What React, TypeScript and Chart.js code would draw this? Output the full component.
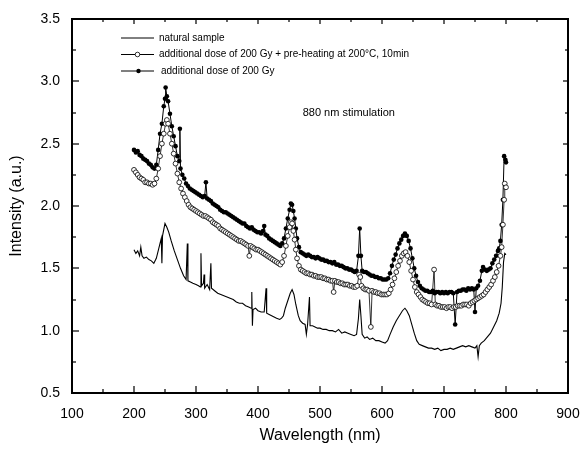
import React, { useEffect, useRef } from "react";
import { Chart, registerables } from "chart.js";

Chart.register(...registerables);

// ---- data ----
const naturalWl = [
  200, 203, 206, 209, 211, 213, 216, 220, 224, 228,
  232, 236, 240, 244, 245, 246, 250, 253, 256, 260,
  265, 270, 275, 280, 284, 286, 287, 291, 295, 300,
  304, 307, 308, 309, 312, 313, 314, 318, 322, 324,
  325, 330, 335, 340, 345, 350, 355, 360, 365, 370,
  375, 380, 385, 389, 390, 391, 392, 396, 400, 405,
  410, 413, 414, 418, 422, 426, 430, 435, 438, 441,
  444, 448, 452, 455, 458, 461, 465, 468, 472, 476,
  478, 480, 483, 484, 488, 492, 496, 500, 505, 510,
  515, 520, 525, 530, 535, 540, 545, 550, 555, 559,
  562, 564, 566, 568, 572, 576, 580, 585, 590, 595,
  600, 605, 609, 613, 618, 623, 628, 633, 637, 640,
  644, 648, 652, 656, 660, 665, 670, 675, 680, 685,
  690, 695, 700, 705, 710, 715, 720, 725, 730, 735,
  740, 745, 750, 753, 755, 757, 760, 765, 770, 775,
  780, 785, 789, 792, 794, 796, 798, 800,
];
const naturalVal = [
  1.65, 1.62, 1.64, 1.60, 1.67, 1.60, 1.58, 1.59, 1.57, 1.56,
  1.54, 1.58, 1.66, 1.74, 1.54, 1.76, 1.86, 1.83, 1.79, 1.72,
  1.64, 1.57, 1.50, 1.44, 1.41, 1.70, 1.40, 1.39, 1.38, 1.37,
  1.36, 1.35, 1.62, 1.36, 1.38, 1.45, 1.34, 1.37, 1.33, 1.54,
  1.34, 1.32, 1.30, 1.29, 1.28, 1.27, 1.26, 1.25, 1.23, 1.22,
  1.22, 1.20, 1.19, 1.18, 1.31, 1.04, 1.17, 1.18, 1.16, 1.15,
  1.15, 1.34, 1.14, 1.13, 1.12, 1.11, 1.10, 1.09, 1.10, 1.12,
  1.18, 1.24, 1.30, 1.33, 1.29, 1.21, 1.12, 1.08, 1.06, 1.05,
  0.97, 1.05, 1.27, 1.04, 1.04, 1.03, 1.02, 1.02, 1.01, 1.01,
  1.00, 1.00, 0.99, 1.01, 0.98, 0.99, 0.98, 0.97, 0.96, 0.97,
  1.10, 1.25, 1.12, 0.97, 0.94, 0.95, 0.93, 0.94, 0.92, 0.92,
  0.91, 0.90, 0.92, 0.97, 1.03, 1.08, 1.12, 1.16, 1.18, 1.16,
  1.12, 1.05, 0.98, 0.92, 0.89, 0.88, 0.87, 0.86, 0.86, 0.85,
  0.86, 0.84, 0.85, 0.85, 0.86, 0.85, 0.86, 0.87, 0.88, 0.87,
  0.88, 0.87, 0.86, 0.88, 0.79, 0.88, 0.90, 0.92, 0.95, 0.98,
  1.03, 1.08, 1.14, 1.22, 1.35, 1.55, 1.62, 1.61,
];

const preheatWl = [
  200, 203, 206, 209, 212, 215, 218, 221, 224, 227,
  230, 233, 236, 239, 242, 245, 248, 251, 253, 255,
  258, 261, 264, 267, 270, 273, 276, 279, 282, 285,
  288, 291, 294, 297, 300, 303, 306, 309, 312, 315,
  318, 321, 324, 327, 330, 333, 336, 339, 342, 345,
  348, 351, 354, 357, 360, 363, 366, 369, 372, 375,
  378, 381, 384, 386, 388, 391, 394, 397, 400, 403,
  406, 409, 412, 415, 418, 421, 424, 427, 430, 433,
  436, 439, 442, 445, 448, 451, 453, 455, 457, 459,
  461, 463, 466, 469, 472, 475, 478, 481, 484, 487,
  490, 493, 496, 499, 502, 505, 508, 511, 514, 517,
  520, 522, 524, 527, 530, 533, 536, 539, 542, 545,
  548, 551, 554, 557, 560, 563, 565, 567, 570, 573,
  576, 579, 582, 584, 587, 590, 593, 596, 599, 602,
  605, 608, 611, 614, 617, 620, 623, 626, 629, 632,
  635, 638, 641, 644, 647, 650, 653, 656, 659, 662,
  665, 668, 671, 674, 677, 680, 684, 686, 689, 692,
  695, 698, 701, 704, 707, 710, 713, 716, 719, 722,
  725, 728, 731, 734, 737, 740, 743, 746, 749, 752,
  755, 758, 761, 764, 767, 770, 773, 776, 779, 782,
  785, 788, 791, 793, 795, 797, 798, 800,
];
const preheatVal = [
  2.29, 2.27, 2.25, 2.23, 2.22, 2.21, 2.19, 2.19, 2.18, 2.18,
  2.17, 2.18, 2.22, 2.30, 2.40, 2.50, 2.58, 2.66, 2.69, 2.66,
  2.58, 2.50, 2.42, 2.34, 2.26, 2.19, 2.14, 2.10, 2.07, 2.04,
  2.01, 1.99, 1.98, 1.97, 1.96, 1.95, 1.94, 1.93, 1.92, 1.92,
  1.91, 1.90, 1.89, 1.87, 1.86, 1.85, 1.84, 1.82, 1.81, 1.80,
  1.79, 1.78, 1.77, 1.76, 1.75, 1.74, 1.73, 1.72, 1.72, 1.71,
  1.70, 1.69, 1.68, 1.60, 1.68, 1.67, 1.66, 1.65, 1.65, 1.64,
  1.63, 1.62, 1.61, 1.60, 1.59, 1.58, 1.57, 1.56, 1.55, 1.54,
  1.53, 1.55, 1.60, 1.68, 1.76, 1.83, 1.87, 1.86, 1.80, 1.73,
  1.65, 1.58, 1.52, 1.49, 1.48, 1.47, 1.46, 1.46, 1.45, 1.45,
  1.44, 1.44, 1.43, 1.43, 1.43, 1.42, 1.42, 1.41, 1.41, 1.40,
  1.40, 1.31, 1.40, 1.39, 1.39, 1.38, 1.38, 1.37, 1.37, 1.37,
  1.36, 1.36, 1.35, 1.35, 1.36, 1.45, 1.43, 1.36, 1.34, 1.33,
  1.33, 1.32, 1.03, 1.32, 1.31, 1.31, 1.30, 1.30, 1.29, 1.29,
  1.29, 1.29, 1.30, 1.33, 1.37, 1.42, 1.47, 1.52, 1.56, 1.60,
  1.62, 1.63, 1.60, 1.55, 1.48, 1.41, 1.35, 1.31, 1.29, 1.27,
  1.25, 1.24, 1.23, 1.22, 1.22, 1.21, 1.49, 1.21, 1.20, 1.20,
  1.19, 1.19, 1.19, 1.18, 1.19, 1.19, 1.18, 1.19, 1.19, 1.20,
  1.20, 1.20, 1.21, 1.21, 1.21, 1.20, 1.22, 1.23, 1.24, 1.25,
  1.26, 1.27, 1.28, 1.29, 1.31, 1.33, 1.35, 1.37, 1.40, 1.43,
  1.47, 1.52, 1.60, 1.67, 1.85, 2.05, 2.18, 2.15,
];

const doseWl = [
  200, 203, 206, 209, 212, 215, 218, 221, 224, 227,
  230, 233, 236, 239, 242, 245, 248, 250, 251, 253,
  255, 258, 261, 264, 267, 270, 273, 274, 275, 278,
  281, 284, 287, 290, 293, 296, 299, 302, 305, 308,
  311, 314, 316, 318, 321, 324, 327, 330, 333, 336,
  339, 342, 345, 348, 351, 354, 357, 360, 363, 366,
  369, 372, 375, 378, 381, 384, 387, 390, 393, 396,
  399, 402, 405, 408, 410, 412, 415, 418, 421, 424,
  427, 430, 433, 436, 439, 442, 445, 448, 451, 453,
  455, 457, 459, 461, 463, 466, 469, 472, 475, 478,
  481, 484, 487, 490, 493, 496, 499, 502, 505, 508,
  511, 514, 517, 520, 523, 526, 529, 532, 535, 538,
  541, 544, 547, 550, 553, 556, 559, 562, 564, 566,
  568, 571, 574, 577, 580, 583, 586, 589, 592, 595,
  598, 601, 604, 607, 610, 613, 616, 619, 622, 625,
  628, 631, 634, 637, 640, 643, 646, 649, 652, 655,
  658, 661, 664, 667, 670, 673, 676, 679, 682, 685,
  688, 691, 694, 697, 700, 703, 706, 709, 712, 715,
  718, 721, 724, 727, 730, 733, 736, 739, 742, 745,
  748, 750, 752, 755, 758, 761, 763, 766, 769, 772,
  775, 778, 781, 784, 787, 789, 791, 793, 795, 797,
  799, 800,
];
const doseVal = [
  2.45, 2.43, 2.44, 2.41, 2.40, 2.38, 2.37, 2.36, 2.34, 2.33,
  2.31, 2.30, 2.33, 2.45, 2.58, 2.66, 2.80, 2.86, 2.95, 2.88,
  2.84, 2.74, 2.64, 2.56, 2.48, 2.40, 2.36, 2.62, 2.30, 2.25,
  2.22, 2.18, 2.16, 2.14, 2.13, 2.12, 2.11, 2.10, 2.09, 2.08,
  2.07, 2.08, 2.19, 2.06, 2.05, 2.04, 2.02, 2.01, 2.00, 1.99,
  1.97, 1.96, 1.95, 1.95, 1.94, 1.93, 1.92, 1.91, 1.90, 1.89,
  1.88, 1.87, 1.86, 1.86, 1.84, 1.83, 1.82, 1.83, 1.81, 1.80,
  1.79, 1.79, 1.78, 1.80, 1.84, 1.77, 1.76, 1.74, 1.73, 1.72,
  1.71, 1.70, 1.69, 1.68, 1.70, 1.74, 1.82, 1.90, 1.97, 2.02,
  2.01, 1.96, 1.90, 1.82, 1.74, 1.67, 1.63, 1.62, 1.61, 1.60,
  1.61, 1.60, 1.59, 1.59, 1.58, 1.59, 1.58, 1.57, 1.57, 1.56,
  1.56, 1.55, 1.55, 1.54, 1.55, 1.53, 1.53, 1.52, 1.52, 1.51,
  1.50, 1.50, 1.49, 1.49, 1.48, 1.47, 1.48, 1.60, 1.82, 1.60,
  1.48, 1.47, 1.47, 1.46, 1.45, 1.44, 1.44, 1.43, 1.43, 1.42,
  1.42, 1.41, 1.41, 1.41, 1.42, 1.46, 1.52, 1.57, 1.61, 1.66,
  1.70, 1.73, 1.76, 1.78, 1.76, 1.72, 1.66, 1.58, 1.50, 1.44,
  1.39, 1.36, 1.34, 1.33, 1.32, 1.32, 1.31, 1.31, 1.32, 1.30,
  1.31, 1.31, 1.30, 1.31, 1.30, 1.31, 1.30, 1.31, 1.31, 1.30,
  1.05, 1.31, 1.32, 1.32, 1.33, 1.33, 1.32, 1.34, 1.33, 1.34,
  1.33, 1.15, 1.34, 1.36, 1.40, 1.48, 1.51, 1.49, 1.48, 1.49,
  1.50, 1.54, 1.57, 1.60, 1.64, 1.66, 1.72, 1.85, 2.05, 2.40,
  2.37, 2.35,
];

const seriesLabels = [
  "natural sample",
  "additional dose of 200 Gy + pre-heating at 200°C, 10min",
  "additional dose of 200 Gy",
];
const annotationText = "880 nm stimulation";
const xTitle = "Wavelength (nm)";
const yTitle = "Intensity (a.u.)";

const FONT = "'Liberation Sans', Arial, sans-serif";

const toPoints = (xs: number[], ys: number[]) =>
  xs.map((x, i) => ({ x, y: ys[i] }));

const decorPlugin = {
  id: "decor",
  afterDraw(chart: any) {
    const { ctx, chartArea } = chart;
    const left = Math.round(chartArea.left);
    const right = Math.round(chartArea.right);
    const top = Math.round(chartArea.top);
    const bottom = Math.round(chartArea.bottom);
    const xs = chart.scales.x;
    const ys = chart.scales.y;
    ctx.save();
    ctx.fillStyle = "#000";
    // ticks
    for (let v = 100; v <= 900; v += 50) {
      const px = Math.round(xs.getPixelForValue(v));
      const major = v % 100 === 0;
      const lb = major ? 7 : 4;
      const lt = major ? 5 : 3;
      ctx.fillRect(px - 0.6, bottom - lb, 1.2, lb);
      ctx.fillRect(px - 0.6, top, 1.2, lt);
    }
    for (let i = 0; i <= 12; i++) {
      const v = 0.5 + i * 0.25;
      const py = Math.round(ys.getPixelForValue(v));
      const major = i % 2 === 0;
      const ll = major ? 7 : 4;
      const lr = major ? 5 : 3;
      ctx.fillRect(left, py - 0.6, ll, 1.2);
      ctx.fillRect(right - lr, py - 0.6, lr, 1.2);
    }
    // frame
    ctx.strokeStyle = "#000";
    ctx.lineWidth = 2;
    ctx.beginPath();
    ctx.rect(left, top, right - left, bottom - top);
    ctx.stroke();

    // legend
    const lx0 = left + 49;
    const lx1 = left + 82;
    const rowY = [top + 19, top + 35.5, top + 52];
    ctx.lineWidth = 1;
    ctx.font = `10px ${FONT}`;
    ctx.textBaseline = "middle";
    ctx.textAlign = "left";
    rowY.forEach((yy, i) => {
      ctx.beginPath();
      ctx.moveTo(lx0, yy);
      ctx.lineTo(lx1, yy);
      ctx.stroke();
      const mx = (lx0 + lx1) / 2;
      if (i === 1) {
        ctx.beginPath();
        ctx.arc(mx, yy, 2.3, 0, Math.PI * 2);
        ctx.fillStyle = "#fff";
        ctx.fill();
        ctx.lineWidth = 0.8;
        ctx.stroke();
        ctx.lineWidth = 1;
        ctx.fillStyle = "#000";
      } else if (i === 2) {
        ctx.beginPath();
        ctx.arc(mx + 1, yy, 2.2, 0, Math.PI * 2);
        ctx.fill();
      }
      ctx.fillText(seriesLabels[i], lx1 + (i === 2 ? 7 : 5), yy);
    });
    // annotation
    ctx.font = `11px ${FONT}`;
    ctx.fillText(annotationText, xs.getPixelForValue(472), ys.getPixelForValue(2.75));
    ctx.restore();
  },
};

const axisBorder = { display: true, color: "#000", width: 2 };

export default function App() {
  const ref = useRef<HTMLCanvasElement | null>(null);
  useEffect(() => {
    if (!ref.current) return;
    const chart = new Chart(ref.current, {
      type: "line",
      data: {
        datasets: [
          {
            label: seriesLabels[0],
            data: toPoints(naturalWl, naturalVal),
            borderColor: "#000",
            borderWidth: 1.1,
            pointRadius: 0,
            tension: 0,
          },
          {
            label: seriesLabels[1],
            data: toPoints(preheatWl, preheatVal),
            borderColor: "#000",
            borderWidth: 0.8,
            pointRadius: 2.4,
            pointStyle: "circle",
            pointBackgroundColor: "#fff",
            pointBorderColor: "#000",
            pointBorderWidth: 0.8,
            tension: 0,
          },
          {
            label: seriesLabels[2],
            data: toPoints(doseWl, doseVal),
            borderColor: "#000",
            borderWidth: 1,
            pointRadius: 2.3,
            pointStyle: "circle",
            pointBackgroundColor: "#000",
            pointBorderColor: "#000",
            pointBorderWidth: 0,
            tension: 0,
          },
        ],
      },
      options: {
        animation: false,
        responsive: false,
        maintainAspectRatio: false,
        layout: { padding: { top: 19, right: 12, left: 0, bottom: 0 } },
        plugins: {
          legend: { display: false },
          tooltip: { enabled: false },
        },
        scales: {
          x: {
            type: "linear",
            min: 100,
            max: 900,
            grid: { display: false, drawTicks: false },
            border: axisBorder,
            ticks: {
              stepSize: 100,
              color: "#000",
              font: { family: FONT, size: 14 },
              padding: 13,
              maxRotation: 0,
            },
            title: {
              display: true,
              text: xTitle,
              color: "#000",
              font: { family: FONT, size: 16 },
              padding: { top: 0, bottom: 5 },
            },
            afterFit: (s: any) => {
              s.height = 57;
              s.paddingLeft = 0;
              s.paddingRight = 0;
            },
          },
          y: {
            type: "linear",
            min: 0.5,
            max: 3.5,
            grid: { display: false, drawTicks: false },
            border: axisBorder,
            ticks: {
              stepSize: 0.5,
              color: "#000",
              font: { family: FONT, size: 14 },
              padding: 12,
              callback: (v: any) => Number(v).toFixed(1),
            },
            title: {
              display: true,
              text: yTitle,
              color: "#000",
              font: { family: FONT, size: 16 },
              padding: { top: 7, bottom: 0 },
            },
            afterFit: (s: any) => {
              s.width = 72;
              s.paddingTop = 0;
              s.paddingBottom = 0;
            },
          },
        },
      },
      plugins: [decorPlugin],
    });
    return () => chart.destroy();
  }, []);
  return (
    <div style={{ position: "fixed", left: 0, top: 0, width: 580, height: 450, background: "#fff" }}>
      <canvas ref={ref} width={580} height={450} />
    </div>
  );
}
